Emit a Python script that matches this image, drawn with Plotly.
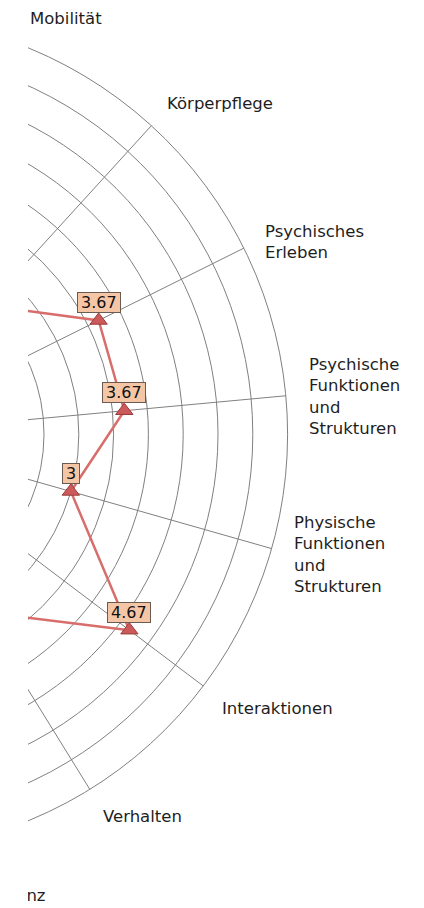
import plotly.graph_objects as go
import math

# ---------------- data ----------------
categories = [
    "Selbstständigkeit",
    "Mobilität",
    "Körperpflege",
    "Psychisches<br>Erleben",
    "Psychische<br>Funktionen<br>und<br>Strukturen",
    "Physische<br>Funktionen<br>und<br>Strukturen",
    "Interaktionen",
    "Verhalten",
    "Soziale<br>Kompetenz",
    "Ernährung",
    "Schlaf",
    "Schmerz",
    "Kommunikation",
    "Kognition",
    "Soziale<br>Teilhabe",
    "Haushalts-<br>führung",
    "Atmung",
]
values = [3.33, 3.0, 2.5, 3.67, 3.67, 3.0, 4.67, 3.0, 2.67,
          3.33, 4.0, 3.67, 3.0, 2.67, 3.33, 4.0, 3.67]
value_labels = [f"{v:g}" for v in values]
r_max = 6
r_step = 0.5

# ---------------- styling / geometry ----------------
GRID = "#808080"
LINE = "#d86e6c"
MFILL = "#cc5a5a"
MEDGE = "#9a3a3a"
BOX = "#f5c6a5"
BOXEDGE = "#6b5a50"
FONT = "DejaVu Sans"
LABEL_SIZE = 16.5
LABEL_PAD = 21
LABEL_DX = 2

H = 908
R = 417.6            # outer radius in px
CX_PAGE = -130.0     # centre of the chart in page px (off the visible area)
CY = 434.3           # centre y (px from top)
LEFT_PAD = 10.4
cxf = LEFT_PAD + R   # centre x inside the figure
SHIFT = cxf - CX_PAGE
W = int(round(SHIFT + 424))
CLIP_X = 28          # visible area starts at page x = 28

dom_x = [(cxf - R) / W, (cxf + R) / W]
dom_y = [(H - CY - R) / H, (H - CY + R) / H]

fig = go.Figure()
fig.add_trace(go.Scatterpolar(
    r=values + [values[0]],
    theta=categories + [categories[0]],
    mode="lines+markers",
    line=dict(color=LINE, width=2.5),
    marker=dict(symbol="triangle-up", size=15, color=MFILL,
                line=dict(color=MEDGE, width=1)),
    hoverinfo="skip",
))

n = len(categories)


def angle(i):
    return math.radians(90 - i * 360 / n)


ann = []
# category labels just outside the outer ring
for i, cat in enumerate(categories):
    a = angle(i)
    c, s = math.cos(a), math.sin(a)
    px = cxf + (R + LABEL_PAD) * c
    py = CY - (R + LABEL_PAD) * s
    xa = "left" if c > 0.1 else ("right" if c < -0.1 else "center")
    ya = "bottom" if s > 0.5 else ("top" if s < -0.5 else "middle")
    ann.append(dict(
        x=px / W, y=1 - py / H, xref="paper", yref="paper",
        xshift=LABEL_DX if c > 0.1 else (-LABEL_DX if c < -0.1 else 0),
        yshift=-3 if s > 0 else 0,
        text=cat, showarrow=False, xanchor=xa, yanchor=ya, align="left",
        borderpad=0, borderwidth=0,
        font=dict(family=FONT, size=LABEL_SIZE, color="#1e1e1e"),
    ))

# value boxes placed at the polar positions of each point
for i, (v, lab) in enumerate(zip(values, value_labels)):
    a = angle(i)
    px = cxf + v / r_max * R * math.cos(a)
    py = CY - v / r_max * R * math.sin(a)
    ann.append(dict(
        x=px / W, y=1 - py / H, xref="paper", yref="paper",
        text=lab, showarrow=False, xanchor="center", yanchor="bottom",
        yshift=7.5, bgcolor=BOX, bordercolor=BOXEDGE, borderwidth=1,
        borderpad=3, height=13,
        font=dict(family=FONT, size=16, color="#111111"),
    ))

fig.update_layout(
    width=W, height=H,
    margin=dict(l=0, r=0, t=0, b=0),
    paper_bgcolor="white",
    showlegend=False,
    annotations=ann,
    polar=dict(
        domain=dict(x=dom_x, y=dom_y),
        bgcolor="white",
        angularaxis=dict(
            type="category", categoryarray=categories,
            rotation=90, direction="clockwise",
            showgrid=True, gridcolor=GRID, gridwidth=1,
            showline=True, linecolor=GRID, linewidth=1,
            ticks="", showticklabels=False,
        ),
        radialaxis=dict(
            range=[0, r_max], tick0=0, dtick=r_step,
            showticklabels=False, ticks="", showline=False,
            gridcolor=GRID, gridwidth=1,
        ),
    ),
)

post = """
document.body.style.margin='0';
document.body.style.overflow='hidden';
var gd=document.getElementById('{plot_id}');
gd.style.position='absolute';
gd.style.top='0px';
gd.style.left='-%.1fpx';
gd.style.clipPath='inset(0px 0px 0px %.1fpx)';
""" % (SHIFT, SHIFT + CLIP_X)

fig.write_html("out.html", post_script=post)
